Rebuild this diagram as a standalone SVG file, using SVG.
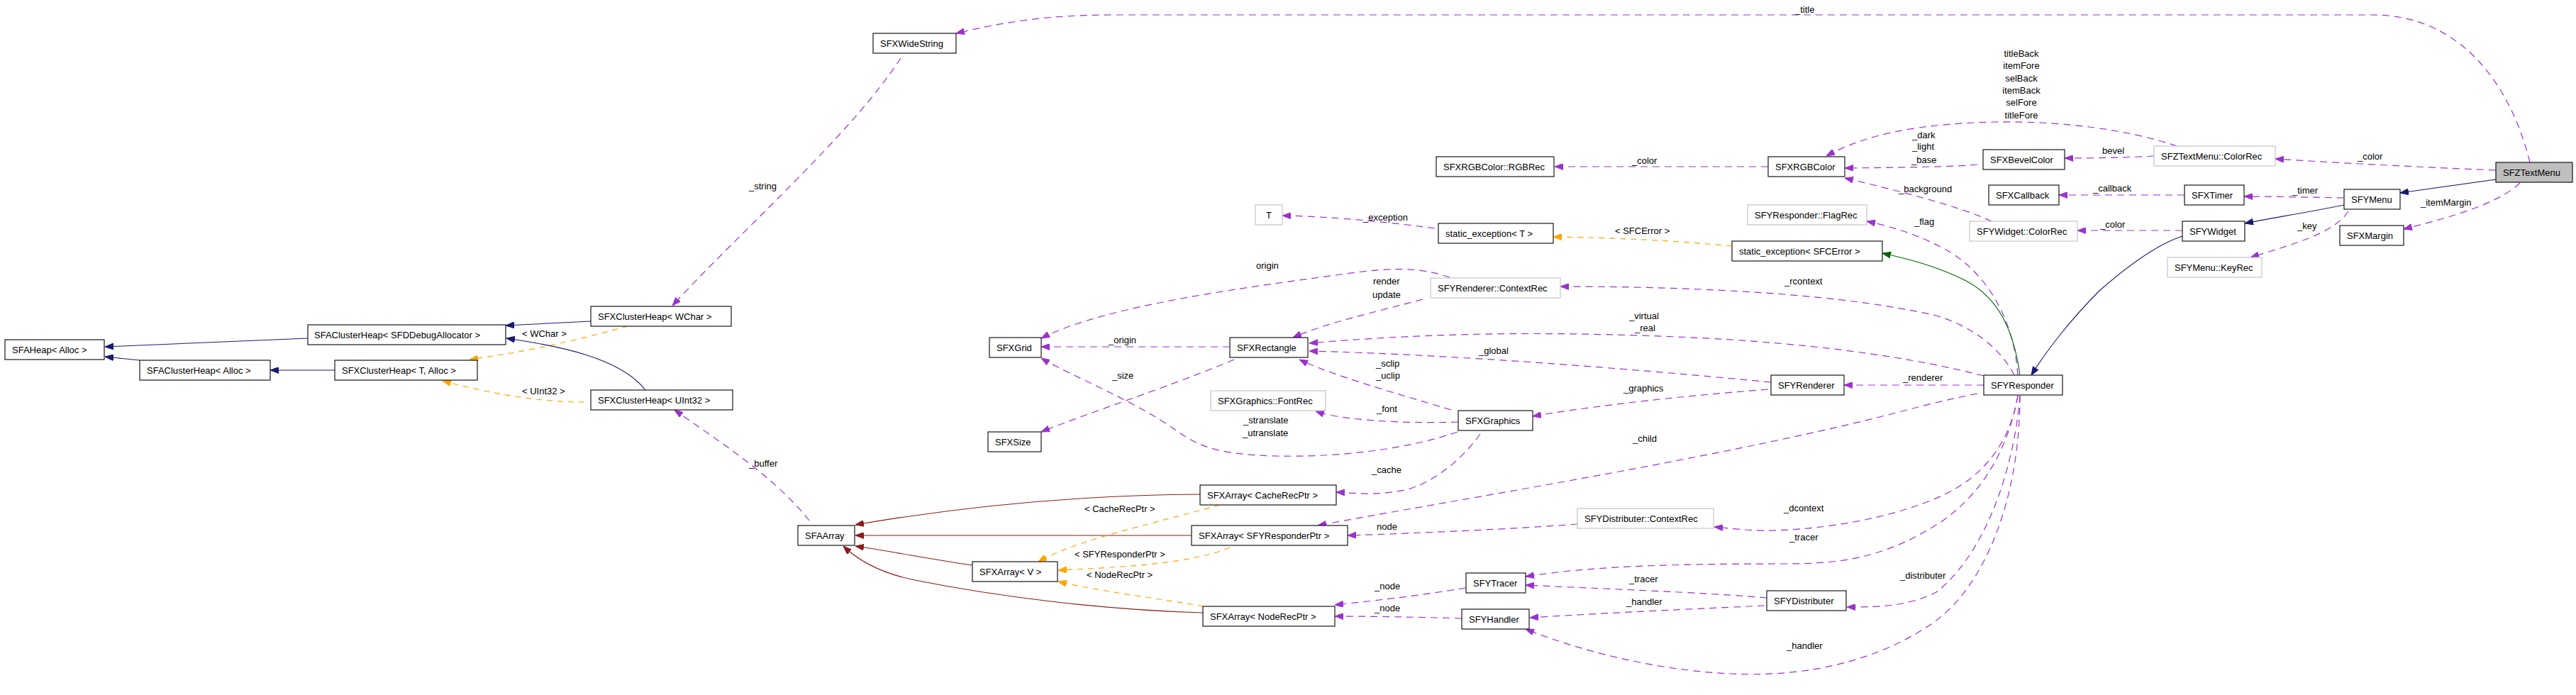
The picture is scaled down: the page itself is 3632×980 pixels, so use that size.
<svg xmlns="http://www.w3.org/2000/svg" width="3632" height="980" viewBox="0 0 3632 980">
<style>
text{font-family:"Liberation Sans",Arial,Helvetica,sans-serif;font-size:13px;fill:#000}
.node rect{fill:#fff;stroke:#000;stroke-width:1.1}
.node.ext rect{stroke:#bfbfbf}
.node.root rect{fill:#bfbfbf}
.e{fill:none}
.u{stroke:#9a32cd;stroke-width:1.2;stroke-dasharray:10,7;marker-end:url(#mu)}
.o{stroke:#ffa500;stroke-width:1.2;stroke-dasharray:8,7;marker-end:url(#mo)}
.i{stroke:#191970;stroke-width:1.1;marker-end:url(#mi)}
.p{stroke:#8b1a1a;stroke-width:1.1;marker-end:url(#mp)}
.g{stroke:#006400;stroke-width:1.1;marker-end:url(#mg)}
.lbl text{font-size:13px}
</style>
<defs>
<marker id="mu" viewBox="0 0 12 9" refX="12" refY="4.5" markerWidth="12" markerHeight="9" markerUnits="userSpaceOnUse" orient="auto"><path d="M0,0 L12,4.5 L0,9 z" fill="#9a32cd" stroke="#9a32cd"/></marker>
<marker id="mo" viewBox="0 0 12 9" refX="12" refY="4.5" markerWidth="12" markerHeight="9" markerUnits="userSpaceOnUse" orient="auto"><path d="M0,0 L12,4.5 L0,9 z" fill="#ffa500" stroke="#ffa500"/></marker>
<marker id="mi" viewBox="0 0 12 9" refX="12" refY="4.5" markerWidth="12" markerHeight="9" markerUnits="userSpaceOnUse" orient="auto"><path d="M0,0 L12,4.5 L0,9 z" fill="#191970" stroke="#191970"/></marker>
<marker id="mp" viewBox="0 0 12 9" refX="12" refY="4.5" markerWidth="12" markerHeight="9" markerUnits="userSpaceOnUse" orient="auto"><path d="M0,0 L12,4.5 L0,9 z" fill="#8b1a1a" stroke="#8b1a1a"/></marker>
<marker id="mg" viewBox="0 0 12 9" refX="12" refY="4.5" markerWidth="12" markerHeight="9" markerUnits="userSpaceOnUse" orient="auto"><path d="M0,0 L12,4.5 L0,9 z" fill="#006400" stroke="#006400"/></marker>
</defs>
<rect width="3632" height="980" fill="#fff"/>
<g id="connectors" class="e">
<path class="u" d="M3567,229 C3540,120 3470,21 3345,21 L1571,21 C1480,21 1420,30 1348,47"/>
<path class="u" d="M1270,82 C1200,190 1040,330 948,431"/>
<path class="i" d="M833,453 L713,459"/>
<path class="o" d="M885,460 C840,472 770,492 662,507"/>
<path class="i" d="M910,550 C875,505 790,488 714,477"/>
<path class="o" d="M824,567 C760,567 690,555 624,537"/>
<path class="i" d="M472,522 L381,522"/>
<path class="i" d="M197,508 L148,503"/>
<path class="i" d="M434,477 L148,489"/>
<path class="u" d="M1141,734 C1090,670 1010,620 951,578"/>
<path class="p" d="M1692,697 C1550,698 1380,710 1206,740"/>
<path class="p" d="M1680,755 L1206,755"/>
<path class="p" d="M1371,797 C1320,790 1260,778 1206,770"/>
<path class="p" d="M1696,864 C1550,860 1400,840 1290,818 C1240,808 1210,790 1189,770"/>
<path class="o" d="M1720,712 C1640,735 1520,760 1464,792"/>
<path class="o" d="M1734,772 C1680,795 1580,800 1492,804"/>
<path class="o" d="M1697,855 C1640,845 1540,832 1492,820"/>
<path class="u" d="M1734,489 L1468,489"/>
<path class="u" d="M2044,391 C2000,376 1960,377 1890,387 C1760,405 1560,430 1468,477"/>
<path class="u" d="M2006,422 C1940,440 1870,455 1823,476"/>
<path class="u" d="M2797,530 C2700,505 2550,480 2310,473 C2100,466 1950,475 1846,484"/>
<path class="u" d="M2497,539 C2300,520 2050,500 1846,495"/>
<path class="u" d="M2046,578 C1970,555 1880,530 1832,507"/>
<path class="u" d="M1740,507 C1650,545 1540,580 1468,609"/>
<path class="u" d="M2055,609 C1980,635 1880,645 1800,643 C1720,641 1690,630 1660,608 C1600,565 1510,530 1468,505"/>
<path class="u" d="M2056,595 C2000,597 1900,595 1855,580"/>
<path class="u" d="M2493,549 C2350,560 2230,575 2161,587"/>
<path class="u" d="M2797,543 L2600,543"/>
<path class="u" d="M2087,612 C2060,650 2020,680 1985,690 C1940,700 1910,695 1884,694"/>
<path class="u" d="M2788,555 C2750,562 2700,575 2650,588 C2400,650 2050,705 1858,741"/>
<path class="u" d="M2224,739 C2150,745 2000,752 1900,755"/>
<path class="u" d="M2845,558 C2835,620 2800,670 2740,698 C2650,740 2520,752 2460,747 L2417,743"/>
<path class="u" d="M2845,558 C2830,640 2790,700 2735,737 C2660,785 2600,795 2520,795 C2380,795 2250,797 2151,813"/>
<path class="u" d="M2491,843 C2400,835 2250,830 2151,825"/>
<path class="u" d="M2488,854 C2400,858 2250,865 2157,871"/>
<path class="u" d="M2848,558 C2840,660 2800,780 2730,835 C2690,855 2650,856 2604,856"/>
<path class="u" d="M2848,558 C2848,700 2800,830 2720,882 C2640,935 2540,955 2440,950 C2330,945 2220,915 2151,887"/>
<path class="u" d="M2067,829 C2000,840 1930,848 1882,853"/>
<path class="u" d="M2061,872 C2000,870 1930,869 1882,869"/>
<path class="u" d="M2840,529 C2820,490 2780,460 2730,445 C2600,415 2400,404 2200,404"/>
<path class="u" d="M2845,529 C2840,450 2800,380 2736,348 C2705,332 2670,320 2632,312"/>
<path class="u" d="M2808,312 C2760,290 2680,270 2601,251"/>
<path class="u" d="M2788,232 C2760,235 2700,236 2601,237"/>
<path class="u" d="M3069,206 C3000,182 2900,170 2810,172 C2700,175 2630,190 2575,220"/>
<path class="u" d="M2493,235 L2192,235"/>
<path class="u" d="M3037,220 C3000,222 2960,223 2911,223"/>
<path class="u" d="M3519,240 C3400,235 3300,230 3208,224"/>
<path class="i" d="M3519,253 L3384,272"/>
<path class="u" d="M3553,258 C3520,290 3440,310 3389,323"/>
<path class="u" d="M3305,279 C3250,278 3200,277 3164,277"/>
<path class="u" d="M3080,275 L2903,275"/>
<path class="i" d="M3305,289 C3250,300 3200,308 3165,315"/>
<path class="u" d="M3311,298 C3290,330 3230,345 3173,363"/>
<path class="u" d="M3077,325 L2929,325"/>
<path class="i" d="M3077,333 C3040,345 3000,375 2960,410 C2920,450 2885,495 2864,529"/>
<path class="g" d="M2848,529 C2840,470 2820,420 2770,395 C2730,375 2690,365 2654,357"/>
<path class="o" d="M2442,347 C2350,338 2260,335 2190,334"/>
<path class="u" d="M2023,322 C1950,312 1870,305 1808,304"/>
</g>
<g id="edge-labels" class="lbl">
<text x="2531" y="17.5">_title</text>
<text x="1056" y="266.5">_string</text>
<text x="736" y="474.5">&lt; WChar &gt;</text>
<text x="736" y="555.5">&lt; UInt32 &gt;</text>
<text x="1056" y="657.5">_buffer</text>
<text x="1771" y="378.5">origin</text>
<text x="1563" y="483.5">_origin</text>
<text x="1922" y="311">_exception</text>
<text x="2277" y="329.5">&lt; SFCError &gt;</text>
<text x="2301" y="230.5">_color</text>
<text x="2696" y="194.5">_dark</text>
<text x="2696" y="211">_light</text>
<text x="2695" y="229.5">_base</text>
<text x="2677" y="271">_background</text>
<text x="2699" y="317">_flag</text>
<text x="1936" y="401">render</text>
<text x="1935" y="419.5">update</text>
<text x="2516" y="401">_rcontext</text>
<text x="2297" y="449.5">_virtual</text>
<text x="2305" y="467">_real</text>
<text x="2085" y="498.5">_global</text>
<text x="1940" y="516.5">_sclip</text>
<text x="1940" y="533.5">_uclip</text>
<text x="1568" y="533.5">_size</text>
<text x="1753" y="597">_stranslate</text>
<text x="1752" y="615">_utranslate</text>
<text x="1941" y="581">_font</text>
<text x="2289" y="551.5">_graphics</text>
<text x="2683" y="537">_renderer</text>
<text x="2302" y="623">_child</text>
<text x="1934" y="666.5">_cache</text>
<text x="1529" y="721.5">&lt; CacheRecPtr &gt;</text>
<text x="1515" y="785.5">&lt; SFYResponderPtr &gt;</text>
<text x="1532" y="814.5">&lt; NodeRecPtr &gt;</text>
<text x="2515" y="721">_dcontext</text>
<text x="1941" y="747">node</text>
<text x="2523" y="762">_tracer</text>
<text x="2297" y="821">_tracer</text>
<text x="2679" y="815.5">_distributer</text>
<text x="1938" y="831">_node</text>
<text x="1938" y="862">_node</text>
<text x="2293" y="853">_handler</text>
<text x="2519" y="915">_handler</text>
<text x="2850" y="80" text-anchor="middle">titleBack</text>
<text x="2850" y="97" text-anchor="middle">itemFore</text>
<text x="2850" y="114.5" text-anchor="middle">selBack</text>
<text x="2850" y="132" text-anchor="middle">itemBack</text>
<text x="2850" y="149" text-anchor="middle">selFore</text>
<text x="2850" y="167" text-anchor="middle">titleFore</text>
<text x="2964" y="216.5">bevel</text>
<text x="3324" y="225">_color</text>
<text x="2951" y="270">_callback</text>
<text x="3232" y="272.5">_timer</text>
<text x="3413" y="289.5">_itemMargin</text>
<text x="2961" y="321">_color</text>
<text x="3239" y="322.5">_key</text>
</g>
<g id="SFZTextMenu" class="node root"><rect x="3519" y="229" width="108" height="28"/><text x="3529" y="247.5">SFZTextMenu</text></g>
<g id="SFXWideString" class="node"><rect x="1231" y="47" width="117" height="28"/><text x="1241" y="65.5">SFXWideString</text></g>
<g id="SFXClusterHeap_WChar" class="node"><rect x="833" y="432" width="198" height="28"/><text x="843" y="450.5">SFXClusterHeap&lt; WChar &gt;</text></g>
<g id="SFAClusterHeap_SFDDebugAllocator" class="node"><rect x="434" y="458" width="279" height="28"/><text x="443" y="476.5">SFAClusterHeap&lt; SFDDebugAllocator &gt;</text></g>
<g id="SFAHeap_Alloc" class="node"><rect x="7" y="479" width="140" height="28"/><text x="17" y="497.5">SFAHeap&lt; Alloc &gt;</text></g>
<g id="SFAClusterHeap_Alloc" class="node"><rect x="197" y="508" width="184" height="28"/><text x="207" y="526.5">SFAClusterHeap&lt; Alloc &gt;</text></g>
<g id="SFXClusterHeap_T_Alloc" class="node"><rect x="472" y="508" width="201" height="28"/><text x="482" y="526.5">SFXClusterHeap&lt; T, Alloc &gt;</text></g>
<g id="SFXClusterHeap_UInt32" class="node"><rect x="833" y="550" width="200" height="28"/><text x="843" y="568.5">SFXClusterHeap&lt; UInt32 &gt;</text></g>
<g id="T" class="node ext"><rect x="1770" y="289" width="38" height="28"/><text x="1789" y="307.5" text-anchor="middle">T</text></g>
<g id="SFXGrid" class="node"><rect x="1395" y="476" width="73" height="28"/><text x="1405" y="494.5">SFXGrid</text></g>
<g id="SFXRectangle" class="node"><rect x="1734" y="476" width="110" height="28"/><text x="1744" y="494.5">SFXRectangle</text></g>
<g id="SFXSize" class="node"><rect x="1393" y="609" width="75" height="28"/><text x="1403" y="627.5">SFXSize</text></g>
<g id="SFXGraphics_FontRec" class="node ext"><rect x="1707" y="551" width="162" height="28"/><text x="1717" y="569.5">SFXGraphics::FontRec</text></g>
<g id="SFXGraphics" class="node"><rect x="2056" y="579" width="105" height="28"/><text x="2066" y="597.5">SFXGraphics</text></g>
<g id="SFAArray" class="node"><rect x="1125" y="741" width="80" height="28"/><text x="1135" y="759.5">SFAArray</text></g>
<g id="SFXArray_CacheRecPtr" class="node"><rect x="1692" y="684" width="192" height="28"/><text x="1702" y="702.5">SFXArray&lt; CacheRecPtr &gt;</text></g>
<g id="SFXArray_SFYResponderPtr" class="node"><rect x="1680" y="741" width="220" height="28"/><text x="1690" y="759.5">SFXArray&lt; SFYResponderPtr &gt;</text></g>
<g id="SFXArray_V" class="node"><rect x="1371" y="792" width="120" height="28"/><text x="1381" y="810.5">SFXArray&lt; V &gt;</text></g>
<g id="SFXArray_NodeRecPtr" class="node"><rect x="1696" y="855" width="186" height="28"/><text x="1706" y="873.5">SFXArray&lt; NodeRecPtr &gt;</text></g>
<g id="SFXRGBColor_RGBRec" class="node"><rect x="2025" y="221" width="166" height="28"/><text x="2035" y="239.5">SFXRGBColor::RGBRec</text></g>
<g id="SFXRGBColor" class="node"><rect x="2493" y="221" width="108" height="28"/><text x="2503" y="239.5">SFXRGBColor</text></g>
<g id="static_exception_T" class="node"><rect x="2028" y="315" width="162" height="28"/><text x="2038" y="333.5">static_exception&lt; T &gt;</text></g>
<g id="static_exception_SFCError" class="node"><rect x="2442" y="340" width="212" height="28"/><text x="2452" y="358.5">static_exception&lt; SFCError &gt;</text></g>
<g id="SFYResponder_FlagRec" class="node ext"><rect x="2464" y="289" width="168" height="28"/><text x="2474" y="307.5">SFYResponder::FlagRec</text></g>
<g id="SFYRenderer_ContextRec" class="node ext"><rect x="2017" y="392" width="183" height="28"/><text x="2027" y="410.5">SFYRenderer::ContextRec</text></g>
<g id="SFYRenderer" class="node"><rect x="2497" y="529" width="103" height="28"/><text x="2507" y="547.5">SFYRenderer</text></g>
<g id="SFYResponder" class="node"><rect x="2797" y="529" width="111" height="28"/><text x="2807" y="547.5">SFYResponder</text></g>
<g id="SFYDistributer_ContextRec" class="node ext"><rect x="2224" y="717" width="192" height="28"/><text x="2234" y="735.5">SFYDistributer::ContextRec</text></g>
<g id="SFYTracer" class="node"><rect x="2067" y="808" width="84" height="28"/><text x="2077" y="826.5">SFYTracer</text></g>
<g id="SFYDistributer" class="node"><rect x="2491" y="833" width="112" height="28"/><text x="2501" y="851.5">SFYDistributer</text></g>
<g id="SFYHandler" class="node"><rect x="2061" y="859" width="95" height="28"/><text x="2071" y="877.5">SFYHandler</text></g>
<g id="SFXBevelColor" class="node"><rect x="2796" y="211" width="115" height="28"/><text x="2806" y="229.5">SFXBevelColor</text></g>
<g id="SFZTextMenu_ColorRec" class="node ext"><rect x="3037" y="206" width="171" height="28"/><text x="3047" y="224.5">SFZTextMenu::ColorRec</text></g>
<g id="SFXCallback" class="node"><rect x="2804" y="261" width="99" height="28"/><text x="2814" y="279.5">SFXCallback</text></g>
<g id="SFXTimer" class="node"><rect x="3080" y="261" width="84" height="28"/><text x="3090" y="279.5">SFXTimer</text></g>
<g id="SFYMenu" class="node"><rect x="3305" y="267" width="79" height="28"/><text x="3315" y="285.5">SFYMenu</text></g>
<g id="SFYWidget_ColorRec" class="node ext"><rect x="2777" y="312" width="152" height="28"/><text x="2787" y="330.5">SFYWidget::ColorRec</text></g>
<g id="SFYWidget" class="node"><rect x="3077" y="312" width="88" height="28"/><text x="3087" y="330.5">SFYWidget</text></g>
<g id="SFXMargin" class="node"><rect x="3299" y="318" width="90" height="28"/><text x="3309" y="336.5">SFXMargin</text></g>
<g id="SFYMenu_KeyRec" class="node ext"><rect x="3056" y="363" width="133" height="28"/><text x="3066" y="381.5">SFYMenu::KeyRec</text></g>
</svg>
